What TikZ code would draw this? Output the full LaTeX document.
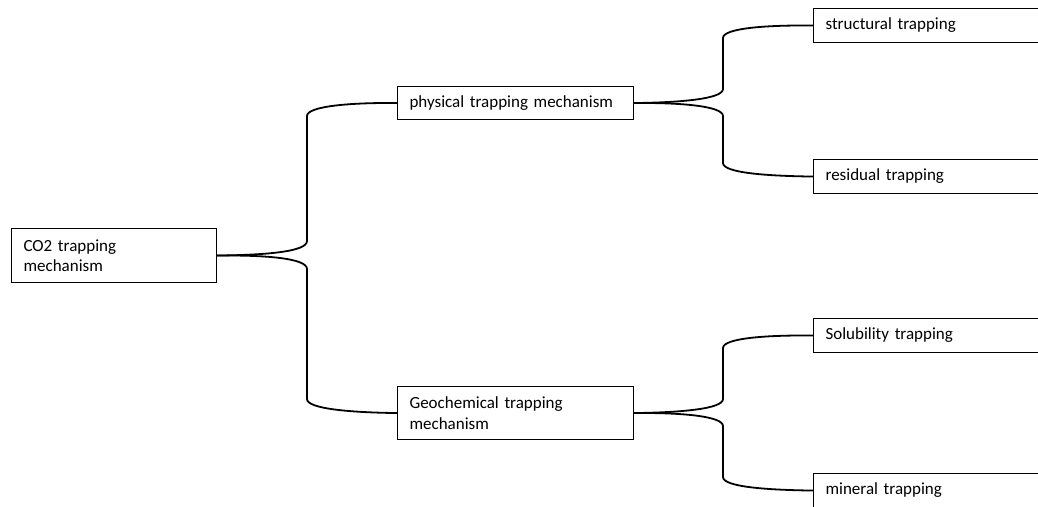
\documentclass[tikz,border=0pt]{standalone}
\usepackage{fontspec}
\setmainfont{Carlito}
\begin{document}
\begin{tikzpicture}[x=1pt,y=-1pt,
  box/.style={draw=black, line width=1.1pt, anchor=north west, align=left,
    inner xsep=12pt, inner ysep=0pt, font=\fontsize{17}{20.5}\selectfont},
  conn/.style={draw=black, line width=1.8pt}]
\useasboundingbox (0,0) rectangle (1038,506);
\clip (0,0) rectangle (1038,506);
% nodes
\node[box, text width=181pt, minimum height=54pt] (co2) at (11,228) {CO2 trapping\\mechanism};
\node[box, text width=212pt, minimum height=33pt] (phys) at (397,86) {physical trapping mechanism};
\node[box, text width=212pt, minimum height=53pt] (geo) at (397,386) {Geochemical trapping\\mechanism};
\node[box, text width=236pt, minimum height=34pt] (struct) at (813,8) {structural trapping};
\node[box, text width=236pt, minimum height=34pt] (resid) at (813,159) {residual trapping};
\node[box, text width=236pt, minimum height=34pt] (sol) at (813,318) {Solubility trapping};
\node[box, text width=236pt, minimum height=34pt] (mine) at (813,473) {mineral trapping};
% connectors
\draw[conn] (co2.east) .. controls (264,255) and (307,252) .. (307,241) -- (307,116) .. controls (307,106) and (352,102.5) .. (phys.west);
\draw[conn] (co2.east) .. controls (264,255) and (307,258) .. (307,269) -- (307,399) .. controls (307,409) and (352,412.5) .. (geo.west);
\draw[conn] (phys.east) .. controls (680,102.5) and (723,99) .. (723,89) -- (723,38) .. controls (723,28) and (768,25) .. (struct.west);
\draw[conn] (phys.east) .. controls (680,102.5) and (723,106) .. (723,116) -- (723,163) .. controls (723,173) and (768,176) .. (resid.west);
\draw[conn] (geo.east) .. controls (680,412.5) and (723,409) .. (723,399) -- (723,348) .. controls (723,338) and (768,335) .. (sol.west);
\draw[conn] (geo.east) .. controls (680,412.5) and (723,416) .. (723,426) -- (723,477) .. controls (723,487) and (768,490) .. (mine.west);
\end{tikzpicture}
\end{document}
